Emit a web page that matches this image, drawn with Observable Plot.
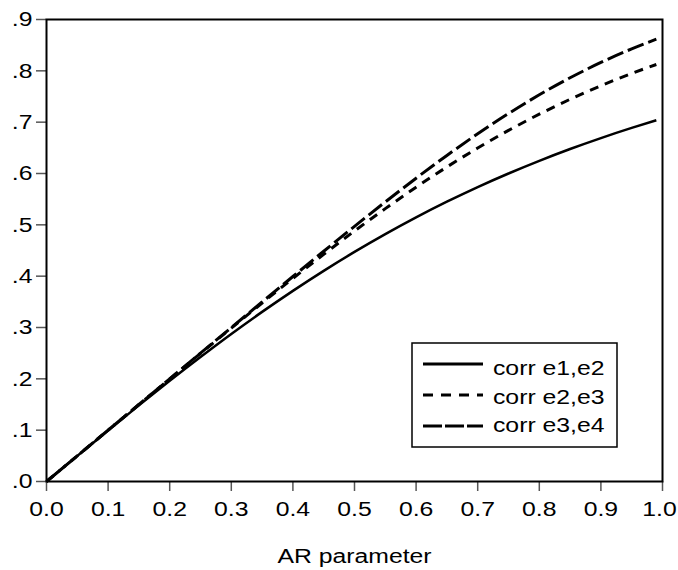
<!DOCTYPE html>
<html><head><meta charset="utf-8">
<script src="https://cdn.jsdelivr.net/npm/d3@7"></script>
<script src="https://cdn.jsdelivr.net/npm/@observablehq/plot@0.6"></script>
<style>
html,body{margin:0;padding:0;background:#fff;}
#chart{position:relative;width:678px;height:570px;}
</style></head><body><div id="chart"></div>
<script>
const arParam = [0, 0.05, 0.1, 0.15, 0.2, 0.25, 0.3, 0.35, 0.4, 0.45, 0.5, 0.55, 0.6, 0.65, 0.7, 0.75, 0.8, 0.85, 0.9, 0.95, 0.99];
const corrE1E2 = [0, 0.0499, 0.0995, 0.1483, 0.1961, 0.2425, 0.2874, 0.3304, 0.3714, 0.4104, 0.4472, 0.4819, 0.5145, 0.5450, 0.5735, 0.6000, 0.6247, 0.6477, 0.6690, 0.6888, 0.7036];
const corrE2E3 = [0, 0.0500, 0.1000, 0.1500, 0.1999, 0.2495, 0.2989, 0.3477, 0.3957, 0.4425, 0.4880, 0.5316, 0.5733, 0.6127, 0.6496, 0.6839, 0.7156, 0.7446, 0.7710, 0.7950, 0.8124];
const corrE3E4 = [0, 0.0500, 0.1000, 0.1500, 0.2000, 0.2500, 0.2999, 0.3497, 0.3993, 0.4485, 0.4971, 0.5446, 0.5908, 0.6352, 0.6774, 0.7168, 0.7533, 0.7865, 0.8163, 0.8428, 0.8616];
const seriesNames = ["corr e1,e2", "corr e2,e3", "corr e3,e4"];
const xTicks = [0, 0.1, 0.2, 0.3, 0.4, 0.5, 0.6, 0.7, 0.8, 0.9, 1.0];
const yTicks = [0, 0.1, 0.2, 0.3, 0.4, 0.5, 0.6, 0.7, 0.8, 0.9];
const xLabel = "AR parameter";

const seriesValues = [corrE1E2, corrE2E3, corrE3E4];
const dashes = [null, "9,7", "17,5"];
const widths = [2.5, 3, 3];
const legendDashes = [null, "10,8", "19,3"];

const lineMarks = seriesNames.map((name, i) =>
  Plot.line(arParam.map((x, j) => ({x, y: seriesValues[i][j], s: name})), {
    x: "x", y: "y", stroke: "#000", strokeWidth: widths[i],
    strokeDasharray: dashes[i], strokeLinecap: "butt", curve: "monotone-x"
  })
);

const chart = Plot.plot({
  width: 678, height: 570,
  marginLeft: 46, marginRight: 16, marginTop: 19, marginBottom: 89,
  style: {fontFamily: "'Liberation Sans', Arial, sans-serif", fontSize: "21px", color: "#000", background: "#fff", overflow: "visible"},
  x: {domain: [0, 1]},
  y: {domain: [0, 0.9]},
  marks: [
    Plot.axisX({ticks: xTicks, tickFormat: d3.format(".1f"), tickSize: 10, tickPadding: 10, stroke: "#555", strokeWidth: 1.5,
      fill: "#000", label: xLabel, labelAnchor: "center", labelOffset: 81, labelArrow: "none"}),
    Plot.axisY({ticks: yTicks, tickFormat: d => d3.format(".1f")(d).replace(/^0/, ""), tickSize: 10, tickPadding: 4,
      stroke: "#555", strokeWidth: 1.5, fill: "#000", label: null}),
    ...lineMarks,
    Plot.frame({stroke: "#000", strokeWidth: 2})
  ]
});

// legend inside the plot area
const svg = d3.select(chart);
const lg = svg.append("g").attr("font-family", "'Liberation Sans', Arial, sans-serif").attr("font-size", 21)
  .attr("text-anchor", "start");
lg.append("rect").attr("x", 412).attr("y", 343).attr("width", 205).attr("height", 104)
  .attr("fill", "#fff").attr("stroke", "#000").attr("stroke-width", 1.5);
const lineYs = [364, 395, 426];
const textYs = [375, 404, 432];
seriesNames.forEach((name, i) => {
  lg.append("line").attr("x1", 423).attr("x2", 483).attr("y1", lineYs[i]).attr("y2", lineYs[i])
    .attr("stroke", "#000").attr("stroke-width", 3).attr("stroke-dasharray", legendDashes[i]);
  lg.append("text").attr("x", 493).attr("y", textYs[i]).attr("fill", "#000").attr("text-anchor", "start").text(name);
});

// stretch text horizontally to match reference proportions
chart.querySelectorAll("text").forEach(t => {
  const tr = t.getAttribute("transform") || "";
  const x = +t.getAttribute("x") || 0, y = +t.getAttribute("y") || 0;
  const nudge = t.textContent === "1.0" ? " translate(-3,0)" : "";
  t.setAttribute("transform", `${tr}${nudge} translate(${x},${y}) scale(1.18,1) translate(${-x},${-y})`);
});

document.getElementById("chart").appendChild(chart);
</script>
</body></html>
